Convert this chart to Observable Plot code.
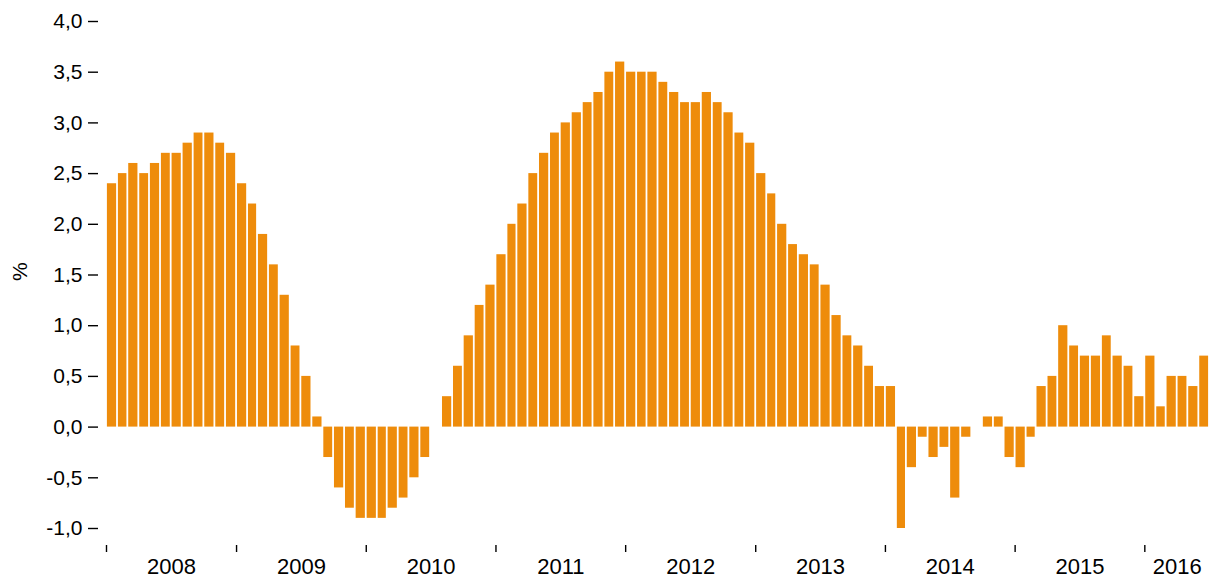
<!DOCTYPE html>
<html>
<head>
<meta charset="utf-8">
<script src="https://cdn.jsdelivr.net/npm/d3@7"></script>
<script src="https://cdn.jsdelivr.net/npm/@observablehq/plot@0.6"></script>
<style>
  html, body { margin: 0; padding: 0; background: #fff; }
  #chart svg { display: block; }
</style>
</head>
<body>
<div id="chart"></div>
<script>
// Monthly values (%) by year
const years = [2008, 2009, 2010, 2011, 2012, 2013, 2014, 2015, 2016];
const v2008 = [2.4, 2.5, 2.6, 2.5, 2.6, 2.7, 2.7, 2.8, 2.9, 2.9, 2.8, 2.7];
const v2009 = [2.4, 2.2, 1.9, 1.6, 1.3, 0.8, 0.5, 0.1, -0.3, -0.6, -0.8, -0.9];
const v2010 = [-0.9, -0.9, -0.8, -0.7, -0.5, -0.3, 0.0, 0.3, 0.6, 0.9, 1.2, 1.4];
const v2011 = [1.7, 2.0, 2.2, 2.5, 2.7, 2.9, 3.0, 3.1, 3.2, 3.3, 3.5, 3.6];
const v2012 = [3.5, 3.5, 3.5, 3.4, 3.3, 3.2, 3.2, 3.3, 3.2, 3.1, 2.9, 2.8];
const v2013 = [2.5, 2.3, 2.0, 1.8, 1.7, 1.6, 1.4, 1.1, 0.9, 0.8, 0.6, 0.4];
const v2014 = [0.4, -1.0, -0.4, -0.1, -0.3, -0.2, -0.7, -0.1, 0.0, 0.1, 0.1, -0.3];
const v2015 = [-0.4, -0.1, 0.4, 0.5, 1.0, 0.8, 0.7, 0.7, 0.9, 0.7, 0.6, 0.3];
const v2016 = [0.7, 0.2, 0.5, 0.5, 0.4, 0.7];
const yearValues = [v2008, v2009, v2010, v2011, v2012, v2013, v2014, v2015, v2016];
const yTicks = [-1.0, -0.5, 0.0, 0.5, 1.0, 1.5, 2.0, 2.5, 3.0, 3.5, 4.0];

// Build the table
const data = [];
years.forEach((yr, i) => {
  yearValues[i].forEach((v, m) => {
    const start = new Date(Date.UTC(yr, m, 1));
    data.push({start, end: d3.utcMonth.offset(start, 1), value: v});
  });
});
const dataStart = data[0].start;
const dataEnd = data[data.length - 1].end;
const yearTickDates = years.map(y => new Date(Date.UTC(y, 0, 1)));
const yearLabels = years.map(y => {
  const a = new Date(Date.UTC(y, 0, 1));
  const b = new Date(Math.min(+new Date(Date.UTC(y + 1, 0, 1)), +dataEnd));
  return {mid: new Date((+a + +b) / 2), label: String(y)};
});

const font = "'Liberation Sans', Arial, Helvetica, sans-serif";

const chart = Plot.plot({
  width: 1209,
  height: 585,
  marginTop: 21,
  marginBottom: 57,
  marginLeft: 106,
  marginRight: 0,
  style: {fontFamily: font, color: "#000", background: "#fff"},
  x: {type: "utc", domain: [dataStart, dataEnd]},
  y: {domain: [-1, 4]},
  marks: [
    Plot.rectY(data, {
      x1: "start", x2: "end", y1: 0, y2: "value",
      fill: "#EE8C0B", insetLeft: 0.9, insetRight: 0.9
    }),
    Plot.axisY({
      ticks: yTicks,
      tickSize: 10,
      tickPadding: 6,
      dx: -8,
      strokeWidth: 1.4,
      fontSize: 21,
      tickFormat: d => d.toFixed(1).replace(".", ","),
      label: null
    }),
    Plot.axisX({
      ticks: yearTickDates,
      tickSize: 7,
      dy: 17,
      strokeWidth: 1.4,
      tickFormat: () => "",
      label: null
    }),
    Plot.text(yearLabels, {
      x: "mid", text: "label", frameAnchor: "bottom", dy: 45,
      fontSize: 22, fill: "#000"
    }),
    Plot.text(["%"], {
      text: d => d, frameAnchor: "left", dx: -86, dy: 6, rotate: -90,
      fontSize: 21, fill: "#000"
    })
  ]
});
document.getElementById("chart").appendChild(chart);
</script>
</body>
</html>
